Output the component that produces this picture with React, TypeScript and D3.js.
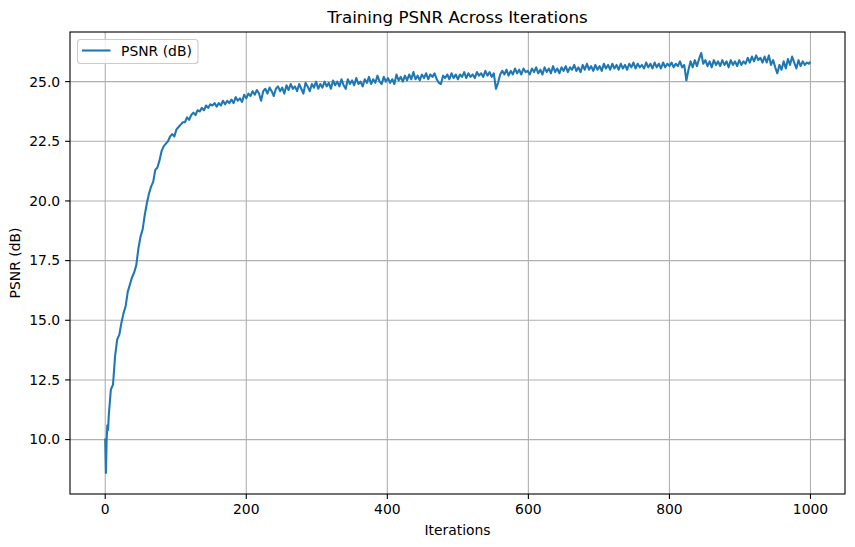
import React from "react";
import * as d3 from "d3";

const warmupIterations = [0, 1, 2, 3, 4];
const warmupPsnr = [10.0, 8.6, 10.0, 10.6, 10.4];

// PSNR sampled every 3 iterations from iteration 5 to 998
const psnrEvery3 = [
  11.0, 12.1, 12.3, 13.5, 14.2, 14.4, 14.9, 15.3, 15.6, 16.2,
  16.5, 16.8, 17.0, 17.3, 18.0, 18.5, 18.8, 19.4, 19.9, 20.3,
  20.6, 20.8, 21.3, 21.4, 21.7, 22.1, 22.3, 22.4, 22.5, 22.7,
  22.8, 22.7, 23.0, 23.1, 23.2, 23.3, 23.3, 23.5, 23.4, 23.6,
  23.7, 23.6, 23.8, 23.75, 23.9, 23.8, 24.0, 23.9, 24.05, 24.0,
  24.1, 23.95, 24.1, 24.0, 24.2, 24.05, 24.2, 24.1, 24.25, 24.1,
  24.35, 24.2, 24.3, 24.15, 24.45, 24.3, 24.5, 24.4, 24.6, 24.45,
  24.65, 24.5, 24.2, 24.6, 24.7, 24.5, 24.75, 24.6, 24.4, 24.7,
  24.8, 24.6, 24.75, 24.5, 24.85, 24.65, 24.9, 24.7, 24.8, 24.6,
  24.9, 24.7, 24.5, 24.95, 24.8, 24.6, 24.9, 24.75, 25.0, 24.7,
  24.9, 24.75, 25.0, 24.8, 24.95, 24.7, 25.05, 24.85, 25.0, 24.8,
  25.1, 24.85, 24.7, 25.1, 24.9, 25.05, 24.85, 25.15, 24.9, 25.0,
  24.8, 25.1, 24.95, 25.2, 24.9, 25.1, 24.95, 25.25, 25.0, 24.9,
  25.2, 25.0, 25.15, 24.95, 25.1, 24.9, 25.3, 25.05, 25.2, 25.0,
  25.25, 25.05, 25.3, 25.1, 25.4, 25.1, 25.25, 25.05, 25.3, 25.15,
  25.35, 25.1, 25.3, 25.2, 25.35, 25.1, 24.95, 24.9, 25.25, 25.15,
  25.3, 25.1, 25.35, 25.15, 25.3, 25.1, 25.3, 25.2, 25.4, 25.15,
  25.35, 25.2, 25.3, 25.15, 25.4, 25.25, 25.35, 25.2, 25.45, 25.25,
  25.4, 25.2, 25.35, 24.7, 24.95, 25.3, 25.45, 25.3, 25.5, 25.25,
  25.45, 25.3, 25.55, 25.35, 25.5, 25.3, 25.55, 25.4, 25.45, 25.3,
  25.55, 25.4, 25.6, 25.35, 25.5, 25.3, 25.6, 25.4, 25.55, 25.35,
  25.65, 25.4, 25.55, 25.35, 25.6, 25.45, 25.65, 25.4, 25.6, 25.5,
  25.7, 25.45, 25.6, 25.4, 25.7, 25.5, 25.75, 25.5, 25.65, 25.45,
  25.7, 25.5, 25.65, 25.45, 25.75, 25.55, 25.7, 25.5, 25.75, 25.55,
  25.7, 25.5, 25.75, 25.55, 25.7, 25.5, 25.75, 25.6, 25.8, 25.55,
  25.75, 25.6, 25.7, 25.55, 25.8, 25.6, 25.75, 25.55, 25.8, 25.6,
  25.75, 25.55, 25.8, 25.6, 25.75, 25.65, 25.8, 25.6, 25.75, 25.65,
  25.85, 25.6, 25.7, 25.05, 25.5, 25.85, 25.6, 25.9, 25.65, 25.95,
  26.2, 25.75, 25.9, 25.65, 25.85, 25.6, 25.9, 25.7, 25.85, 25.65,
  25.9, 25.7, 25.85, 25.6, 25.9, 25.7, 25.85, 25.65, 25.9, 25.7,
  25.85, 25.75, 26.0, 25.8, 26.05, 25.85, 26.1, 25.9, 26.0, 25.8,
  26.05, 25.8, 26.1, 25.7, 25.9, 25.6, 25.35, 25.7, 25.5, 25.85,
  25.55, 25.95, 25.7, 26.05, 25.8, 25.55, 25.9, 25.65, 25.85, 25.7,
  25.8, 25.75,
];
const finalIteration = 999;
const finalPsnr = 25.8;

const xTicks = [0, 200, 400, 600, 800, 1000];
const yTicks = [10.0, 12.5, 15.0, 17.5, 20.0, 22.5, 25.0];

const W = 855;
const H = 547;
const M = { left: 70, right: 845, top: 32, bottom: 494 };
const FONT = "DejaVu Sans, sans-serif";

export default function App() {
  const data: [number, number][] = [
    ...warmupIterations.map((it, i) => [it, warmupPsnr[i]] as [number, number]),
    ...psnrEvery3.map((v, i) => [5 + i * 3, v] as [number, number]),
    [finalIteration, finalPsnr],
  ];
  const xs = data.map((d) => d[0]);
  const ys = data.map((d) => d[1]);
  const xMin = d3.min(xs)!, xMax = d3.max(xs)!;
  const yMin = d3.min(ys)!, yMax = d3.max(ys)!;
  const xPad = (xMax - xMin) * 0.05;
  const yPad = (yMax - yMin) * 0.05;
  const x = d3.scaleLinear().domain([xMin - xPad, xMax + xPad]).range([M.left, M.right]);
  const y = d3.scaleLinear().domain([yMin - yPad, yMax + yPad]).range([M.bottom, M.top]);
  const line = d3.line<[number, number]>().x((d) => x(d[0])).y((d) => y(d[1]));

  return (
    <svg width={W} height={H} style={{ position: "absolute", left: 0, top: 0, background: "#fff" }} fontFamily={FONT}>
      <rect x={0} y={0} width={W} height={H} fill="#fff" />
      {xTicks.map((t) => (
        <line key={"gx" + t} x1={x(t)} x2={x(t)} y1={M.top} y2={M.bottom} stroke="#b0b0b0" strokeWidth={1.1} />
      ))}
      {yTicks.map((t) => (
        <line key={"gy" + t} x1={M.left} x2={M.right} y1={y(t)} y2={y(t)} stroke="#b0b0b0" strokeWidth={1.1} />
      ))}
      <path d={line(data)!} fill="none" stroke="#1f77b4" strokeWidth={2.08} strokeLinejoin="round" strokeLinecap="square" />
      <rect x={M.left} y={M.top} width={M.right - M.left} height={M.bottom - M.top} fill="none" stroke="#000" strokeWidth={1.1} />
      {xTicks.map((t) => (
        <g key={"tx" + t}>
          <line x1={x(t)} x2={x(t)} y1={M.bottom} y2={M.bottom + 4.9} stroke="#000" strokeWidth={1.1} />
          <text x={x(t)} y={M.bottom + 20} textAnchor="middle" fontSize={13.9} fill="#000">{t}</text>
        </g>
      ))}
      {yTicks.map((t) => (
        <g key={"ty" + t}>
          <line x1={M.left - 4.9} x2={M.left} y1={y(t)} y2={y(t)} stroke="#000" strokeWidth={1.1} />
          <text x={M.left - 9.8} y={y(t)} dy="0.35em" textAnchor="end" fontSize={13.9} fill="#000">{t.toFixed(1)}</text>
        </g>
      ))}
      <text x={(M.left + M.right) / 2} y={23} textAnchor="middle" fontSize={16.7} fill="#000">Training PSNR Across Iterations</text>
      <text x={(M.left + M.right) / 2} y={535} textAnchor="middle" fontSize={13.9} fill="#000">Iterations</text>
      <text transform={`translate(20,${(M.top + M.bottom) / 2}) rotate(-90)`} textAnchor="middle" fontSize={13.9} fill="#000">PSNR (dB)</text>
      <g>
        <rect x={77.5} y={39.5} width={120.5} height={24} rx={3} fill="#fff" fillOpacity={0.8} stroke="#cccccc" strokeWidth={1.1} />
        <line x1={82} x2={110.5} y1={50.5} y2={50.5} stroke="#1f77b4" strokeWidth={2.08} />
        <text x={121} y={55.5} fontSize={13.9} fill="#000">PSNR (dB)</text>
      </g>
    </svg>
  );
}
